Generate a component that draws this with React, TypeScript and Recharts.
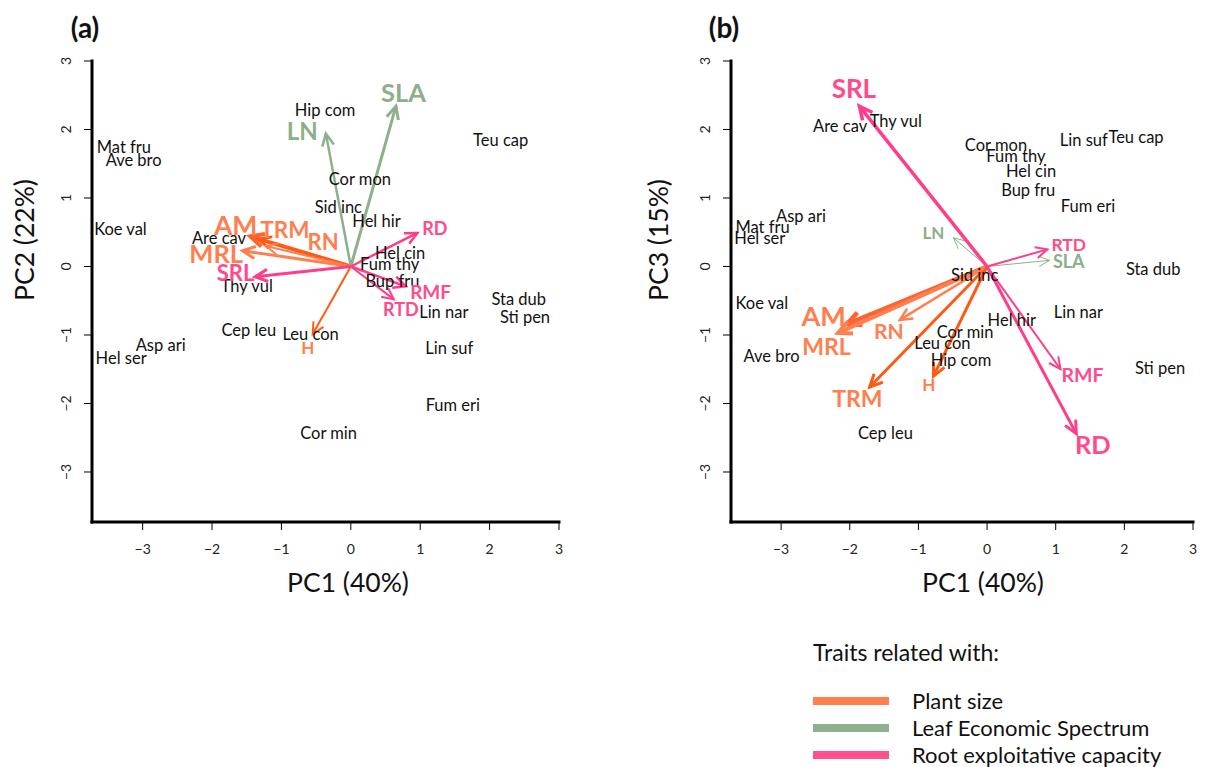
import { ScatterChart, Scatter, XAxis, YAxis, ReferenceLine, Legend } from "recharts";

const FONT = "Lato, 'Open Sans', sans-serif";

// species scores
const SPECIES = [
  "Hip com", "Teu cap", "Mat fru", "Ave bro", "Cor mon", "Sid inc", "Hel hir", "Koe val",
  "Are cav", "Hel cin", "Fum thy", "Bup fru", "Thy vul", "Sta dub", "Sti pen", "Lin nar",
  "Cep leu", "Leu con", "Asp ari", "Hel ser", "Lin suf", "Fum eri", "Cor min",
];
const PC1_A = [-0.37, 2.16, -3.27, -3.13, 0.13, -0.18, 0.37, -3.32, -1.9, 0.71, 0.56, 0.6, -1.5, 2.42, 2.51, 1.34, -1.47, -0.58, -2.74, -3.31, 1.42, 1.47, -0.32];
const PC2_A = [2.28, 1.84, 1.74, 1.55, 1.28, 0.87, 0.66, 0.55, 0.41, 0.19, 0.03, -0.21, -0.28, -0.48, -0.74, -0.67, -0.93, -0.99, -1.15, -1.33, -1.19, -2.02, -2.43];
const PC1_B = [-0.38, 2.17, -3.27, -3.14, 0.13, -0.18, 0.36, -3.28, -2.14, 0.64, 0.42, 0.6, -1.33, 2.42, 2.52, 1.33, -1.48, -0.65, -2.71, -3.31, 1.41, 1.47, -0.32];
const PC3_B = [-1.37, 1.89, 0.58, -1.3, 1.78, -0.13, -0.78, -0.53, 2.05, 1.39, 1.61, 1.12, 2.13, -0.04, -1.48, -0.66, -2.43, -1.12, 0.73, 0.41, 1.85, 0.88, -0.95];

// trait loadings
const TRAITS = ["AM", "MRL", "TRM", "RN", "H", "SLA", "LN", "SRL", "RD", "RMF", "RTD"];
const TRAIT_GROUP = [0, 0, 0, 0, 0, 1, 1, 2, 2, 2, 2];
const GROUPS = ["Plant size", "Leaf Economic Spectrum", "Root exploitative capacity"];

const ARROW_PC1_A = [-1.45, -1.56, -1.33, -1.22, -0.55, 0.65, -0.36, -1.38, 0.96, 0.79, 0.62];
const ARROW_PC2_A = [0.44, 0.23, 0.4, 0.3, -0.99, 2.34, 1.94, -0.15, 0.49, -0.29, -0.48];
const LABEL_PC1_A = [-1.66, -1.94, -0.95, -0.4, -0.62, 0.76, -0.7, -1.66, 1.21, 1.15, 0.72];
const LABEL_PC2_A = [0.61, 0.19, 0.54, 0.37, -1.18, 2.55, 1.99, -0.09, 0.56, -0.36, -0.62];

const ARROW_PC1_B = [-2.04, -2.17, -1.71, -1.27, -0.78, 0.91, -0.49, -1.86, 1.3, 1.07, 0.88];
const ARROW_PC3_B = [-0.84, -0.97, -1.76, -0.78, -1.6, 0.09, 0.42, 2.34, -2.44, -1.5, 0.25];
const LABEL_PC1_B = [-2.38, -2.34, -1.89, -1.43, -0.85, 1.19, -0.78, -1.94, 1.54, 1.39, 1.19];
const LABEL_PC3_B = [-0.72, -1.16, -1.92, -0.94, -1.72, 0.08, 0.5, 2.61, -2.59, -1.58, 0.32];

const TICKS = [-3, -2, -1, 0, 1, 2, 3];
const DOMAIN: [number, number] = [-3.73, 3];

// styles
const GROUP_COLOR = ["#FF7F4F", "#8FB08C", "#FF4F8F"];
const LABEL_COLOR = ["#FF7F50", "#8CAF88", "#FF4A8D"];
const ARROW_COLOR: Record<string, string> = {
  AM: "#FF6330", MRL: "#FF7F50", TRM: "#FF5A14", RN: "#FF7F50", H: "#FF5A14",
  SLA: "#8DB08A", LN: "#8DB08A",
  SRL: "#FF3E8A", RD: "#FF3E8A", RMF: "#FF3E8A", RTD: "#FF3E8A",
};
const SIZE_A: Record<string, number> = { AM: 26.5, MRL: 25.5, TRM: 22.5, RN: 22, H: 17, SLA: 25.5, LN: 24, SRL: 22, RD: 18, RMF: 19, RTD: 18 };
const WIDTH_A: Record<string, number> = { AM: 4, MRL: 3, TRM: 3, RN: 2, H: 2, SLA: 3, LN: 2.5, SRL: 3, RD: 2.5, RMF: 2.5, RTD: 2 };
const SIZE_B: Record<string, number> = { AM: 27, MRL: 23, TRM: 23, RN: 21, H: 17, SLA: 18, LN: 17, SRL: 26, RD: 25.5, RMF: 19.5, RTD: 17.5 };
const WIDTH_B: Record<string, number> = { AM: 4.5, MRL: 4, TRM: 3, RN: 2.5, H: 3, SLA: 1, LN: 1, SRL: 3.5, RD: 3, RMF: 2, RTD: 2 };

const fmt = (v: number) => (v < 0 ? `\u2212${Math.abs(v)}` : `${v}`);

const YTick = ({ x, y, payload }: any) => (
  <text transform={`translate(${x},${y}) rotate(-90)`} textAnchor="middle" fontSize={14} fontFamily={FONT} fill="#222">
    {fmt(payload.value)}
  </text>
);

const XTick = ({ x, y, payload }: any) => (
  <text x={x} y={y + 20} textAnchor="middle" fontSize={14} fontFamily={FONT} fill="#222">
    {fmt(payload.value)}
  </text>
);

const SpeciesLabel = (p: any) => (
  <text x={p.cx} y={p.cy} textAnchor="middle" dominantBaseline="central" fontSize={16.5} fontFamily={FONT} fill="#111">
    {p.payload.name}
  </text>
);

const makeTraitLabel = (sizes: Record<string, number>) => (p: any) => (
  <text
    x={p.cx}
    y={p.cy}
    textAnchor="middle"
    dominantBaseline="central"
    fontSize={sizes[p.payload.name]}
    fontWeight="bold"
    fontFamily={FONT}
    fill={LABEL_COLOR[p.payload.group]}
  >
    {p.payload.name}
  </text>
);

const makeArrow = (color: string, w: number) => (p: any) => {
  const { x1, y1, x2, y2 } = p;
  const a = Math.atan2(y2 - y1, x2 - x1);
  const head = 11 + w;
  const s = Math.PI / 7;
  const h1 = `${x2 - head * Math.cos(a - s)},${y2 - head * Math.sin(a - s)}`;
  const h2 = `${x2 - head * Math.cos(a + s)},${y2 - head * Math.sin(a + s)}`;
  return (
    <g>
      <line x1={x1} y1={y1} x2={x2} y2={y2} stroke={color} strokeWidth={w} />
      <polyline points={`${h1} ${x2},${y2} ${h2}`} fill="none" stroke={color} strokeWidth={w} />
    </g>
  );
};

const LegendBox = () => (
  <div style={{ fontFamily: FONT, color: "#111" }}>
    <div style={{ fontSize: 23, lineHeight: "26px", marginBottom: 22 }}>Traits related with:</div>
    {GROUPS.map((g, i) => (
      <div key={g} style={{ display: "flex", alignItems: "center", height: 27 }}>
        <span style={{ display: "inline-block", width: 76, height: 8, background: GROUP_COLOR[i], marginRight: 23 }} />
        <span style={{ fontSize: 22 }}>{g}</span>
      </div>
    ))}
  </div>
);

interface BiplotProps {
  xs: number[];
  ys: number[];
  ax: number[];
  ay: number[];
  lx: number[];
  ly: number[];
  sizes: Record<string, number>;
  widths: Record<string, number>;
  width: number;
  height: number;
  yAxisWidth: number;
  margin: { top: number; right: number; bottom: number; left: number };
  legend?: boolean;
}

const Biplot = ({ xs, ys, ax, ay, lx, ly, sizes, widths, width, height, yAxisWidth, margin, legend }: BiplotProps) => {
  const species = SPECIES.map((name, i) => ({ x: xs[i], y: ys[i], name }));
  const labels = TRAITS.map((name, i) => ({ x: lx[i], y: ly[i], name, group: TRAIT_GROUP[i] }));
  return (
    <ScatterChart width={width} height={height} margin={margin}>
      <XAxis
        type="number"
        dataKey="x"
        domain={DOMAIN}
        ticks={TICKS}
        allowDataOverflow
        height={78}
        tickSize={8}
        tickMargin={4}
        tick={<XTick />}
        axisLine={{ stroke: "#000", strokeWidth: 3, strokeLinecap: "square" }}
        tickLine={{ stroke: "#000", strokeWidth: 1 }}
      />
      <YAxis
        type="number"
        dataKey="y"
        domain={DOMAIN}
        ticks={TICKS}
        allowDataOverflow
        width={yAxisWidth}
        tickSize={8}
        tickMargin={13}
        tick={<YTick />}
        axisLine={{ stroke: "#000", strokeWidth: 3, strokeLinecap: "square" }}
        tickLine={{ stroke: "#000", strokeWidth: 1 }}
      />
      <Scatter data={species} shape={SpeciesLabel} isAnimationActive={false} />
      {TRAITS.map((t, i) => (
        <ReferenceLine
          key={t}
          segment={[{ x: 0, y: 0 }, { x: ax[i], y: ay[i] }]}
          ifOverflow="visible"
          shape={makeArrow(ARROW_COLOR[t], widths[t])}
        />
      ))}
      <Scatter data={labels} shape={makeTraitLabel(sizes)} isAnimationActive={false} />
      {legend && (
        <Legend
          layout="horizontal"
          verticalAlign="middle"
          align="center"
          content={<LegendBox />}
          wrapperStyle={{ top: 639, left: 213, width: 390 }}
        />
      )}
    </ScatterChart>
  );
};

const abs = (left: number, top: number, extra: any = {}) => ({
  position: "absolute" as const,
  left,
  top,
  fontFamily: FONT,
  color: "#111",
  whiteSpace: "nowrap" as const,
  ...extra,
});

export default function App() {
  return (
    <div style={{ position: "absolute", left: 0, top: 0, width: 1207, height: 767, background: "#fff", overflow: "hidden" }}>
      <div style={{ position: "absolute", left: 0, top: 0 }}>
        <Biplot
          xs={PC1_A}
          ys={PC2_A}
          ax={ARROW_PC1_A}
          ay={ARROW_PC2_A}
          lx={LABEL_PC1_A}
          ly={LABEL_PC2_A}
          sizes={SIZE_A}
          widths={WIDTH_A}
          width={600}
          height={600}
          yAxisWidth={92}
          margin={{ top: 61, right: 41, bottom: 0, left: 0 }}
        />
      </div>
      <div style={{ position: "absolute", left: 600, top: 0 }}>
        <Biplot
          xs={PC1_B}
          ys={PC3_B}
          ax={ARROW_PC1_B}
          ay={ARROW_PC3_B}
          lx={LABEL_PC1_B}
          ly={LABEL_PC3_B}
          sizes={SIZE_B}
          widths={WIDTH_B}
          width={600}
          height={767}
          yAxisWidth={131}
          margin={{ top: 61, right: 7, bottom: 167, left: 0 }}
          legend
        />
      </div>
      <div style={abs(85, 27, { fontSize: 28, fontWeight: "bold", transform: "translate(-50%,-50%)" })}>(a)</div>
      <div style={abs(724, 27, { fontSize: 28, fontWeight: "bold", transform: "translate(-50%,-50%)" })}>(b)</div>
      <div style={abs(348, 569, { fontSize: 26.5, lineHeight: "26px", transform: "translateX(-50%)" })}>PC1 (40%)</div>
      <div style={abs(983, 569, { fontSize: 26.5, lineHeight: "26px", transform: "translateX(-50%)" })}>PC1 (40%)</div>
      <div style={abs(24, 240, { fontSize: 26.5, lineHeight: "26px", transform: "translate(-50%,-50%) rotate(-90deg)" })}>PC2 (22%)</div>
      <div style={abs(658, 240, { fontSize: 26.5, lineHeight: "26px", transform: "translate(-50%,-50%) rotate(-90deg)" })}>PC3 (15%)</div>
    </div>
  );
}
